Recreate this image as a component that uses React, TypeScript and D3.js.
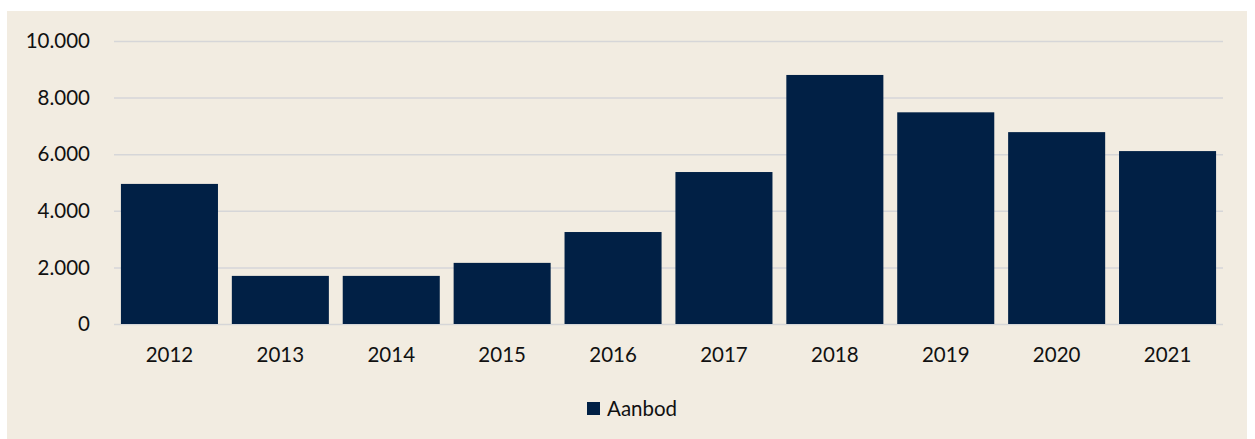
import { useEffect, useRef } from "react";
import * as d3 from "d3";

const years = ["2012", "2013", "2014", "2015", "2016", "2017", "2018", "2019", "2020", "2021"];
const aanbod = [4950, 1700, 1700, 2160, 3250, 5370, 8800, 7480, 6780, 6110];
const yTicks = [0, 2000, 4000, 6000, 8000, 10000];
const seriesName = "Aanbod";

const W = 1255;
const H = 439;

const App = () => {
  const ref = useRef<SVGSVGElement | null>(null);

  useEffect(() => {
    const svg = d3.select(ref.current);
    svg.selectAll("*").remove();

    // achtergrond paneel
    svg.append("rect").attr("width", W).attr("height", H).attr("fill", "#ffffff");
    svg
      .append("rect")
      .attr("x", 7)
      .attr("y", 11)
      .attr("width", 1240)
      .attr("height", 428)
      .attr("fill", "#f2ece1");

    const x = d3.scaleBand<string>().domain(years).range([114, 1223]).paddingInner(0.125).paddingOuter(0.0625);
    const y = d3.scaleLinear().domain([0, 10000]).range([324, 41]);
    const fmt = (v: number) => d3.format(",")(v).replace(/,/g, ".");
    const font = "Lato, 'Open Sans', sans-serif";
    const fs = 20.5;

    // rasterlijnen
    svg
      .append("g")
      .selectAll("line")
      .data(yTicks)
      .join("line")
      .attr("x1", 114)
      .attr("x2", 1223)
      .attr("y1", (d) => y(d) + 0.5)
      .attr("y2", (d) => y(d) + 0.5)
      .attr("stroke", "#d6d6d8")
      .attr("stroke-width", 1.5);

    // staven
    svg
      .append("g")
      .selectAll("rect")
      .data(aanbod)
      .join("rect")
      .attr("x", (_, i) => x(years[i])!)
      .attr("width", x.bandwidth())
      .attr("y", (d) => y(d))
      .attr("height", (d) => y(0) - y(d))
      .attr("fill", "#012045");

    // y-as labels
    svg
      .append("g")
      .selectAll("text")
      .data(yTicks)
      .join("text")
      .attr("x", 90)
      .attr("y", (d) => y(d))
      .attr("dy", "0.35em")
      .attr("text-anchor", "end")
      .attr("font-family", font)
      .attr("font-size", fs)
      .attr("fill", "#111")
      .text((d) => fmt(d));

    // x-as labels
    svg
      .append("g")
      .selectAll("text")
      .data(years)
      .join("text")
      .attr("x", (d) => x(d)! + x.bandwidth() / 2)
      .attr("y", 355)
      .attr("dy", "0.35em")
      .attr("text-anchor", "middle")
      .attr("font-family", font)
      .attr("font-size", fs)
      .attr("fill", "#111")
      .text((d) => d);

    // legenda
    const lg = svg.append("g").attr("transform", "translate(587,402)");
    lg.append("rect").attr("width", 13).attr("height", 13).attr("fill", "#012045");
    lg.append("text")
      .attr("x", 20)
      .attr("y", 7)
      .attr("dy", "0.35em")
      .attr("font-family", font)
      .attr("font-size", fs)
      .attr("fill", "#111")
      .text(seriesName);
  }, []);

  return (
    <svg
      ref={ref}
      width={W}
      height={H}
      style={{ position: "absolute", left: 0, top: 0, display: "block" }}
    />
  );
};

export default App;
